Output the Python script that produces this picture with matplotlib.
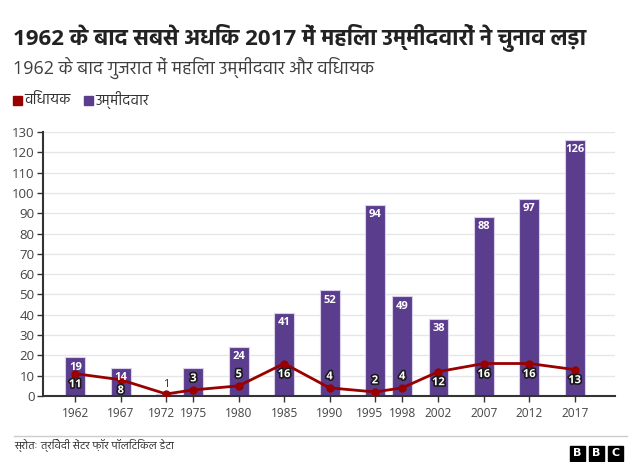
import matplotlib
matplotlib.use("Agg")
import matplotlib.pyplot as plt
import matplotlib.patheffects as pe
import matplotlib.transforms as mtrans
from matplotlib import font_manager
from matplotlib.patches import Rectangle

# ---------------- data ----------------
years = [1962, 1967, 1972, 1975, 1980, 1985, 1990, 1995, 1998, 2002, 2007, 2012, 2017]
candidates = [19, 14, 1, 14, 24, 41, 52, 94, 49, 38, 88, 97, 126]
mlas = [11, 8, 1, 3, 5, 16, 4, 2, 4, 12, 16, 16, 13]
yticks = list(range(0, 131, 10))

title = "1962 के बाद सबसे अधिक 2017 में महिला उम्मीदवारों ने चुनाव लड़ा"
subtitle = "1962 के बाद गुजरात में महिला उम्मीदवार और विधायक"
legend_mla = "विधायक"
legend_cand = "उम्मीदवार"
source = "स्रोतः त्रिवेदी सेंटर फ़ॉर पॉलिटिकल डेटा"

# labels hidden / nudged in the reference due to overlap
hidden_bar_labels = [1975]
hidden_line_labels = [1972]
nudged_tick_labels = [1972, 1995]

# ---------------- fonts ----------------
entries = font_manager.fontManager.ttflist
names = {f.name for f in entries}

def has_bold(name):
    return any(f.name == name and (f.weight == 700 or f.weight == "bold") for f in entries)

def pick(cands, need_bold=True):
    for c in cands:
        if c in names and (not need_bold or has_bold(c)):
            return c
    for c in cands:
        if c in names:
            return c
    return "DejaVu Sans"

dev = pick(["Noto Sans Devanagari", "Hind", "Mukta", "Ek Mukta", "FreeSans"])
latin = pick(["Noto Sans", "Open Sans", "Roboto", "Lato", "Liberation Sans"])
FAM = [latin, dev, "DejaVu Sans"]
plt.rcParams["font.family"] = FAM

BAR = "#5b3d8e"
LINE = "#990000"
TXT = "#444444"

W, H = 640, 462
fig = plt.figure(figsize=(6.4, 4.62), dpi=100)

def fx(px):
    return px / W

def fy(py):
    return 1 - py / H

fig.text(fx(13), fy(38), title, fontsize=16.1, fontweight="bold", color="#222222",
         va="center", ha="left")
fig.text(fx(13), fy(68), subtitle, fontsize=13, color="#404040", va="center", ha="left")

# legend
fig.patches.append(Rectangle((fx(13), fy(105)), fx(9), 9 / H, transform=fig.transFigure,
                             color=LINE, figure=fig))
fig.text(fx(24), fy(100), legend_mla, fontsize=10.5, color="#333333", va="center", ha="left")
fig.patches.append(Rectangle((fx(84), fy(105)), fx(9), 9 / H, transform=fig.transFigure,
                             color=BAR, figure=fig))
fig.text(fx(95), fy(100), legend_cand, fontsize=10.5, color="#333333", va="center", ha="left")

# axes
ax = fig.add_axes([fx(43), fy(396), fx(615) - fx(43), (396 - 132) / H])
ax.set_xlim(1958.44, 2021.44)
ax.set_ylim(0, 130)
ax.bar(years, candidates, width=2.2, color=BAR, edgecolor="#d9d0ea", linewidth=0.8, zorder=2)
ax.plot(years, mlas, color=LINE, lw=2, marker="o", markersize=5, zorder=3)

for yr, v in zip(years, candidates):
    if yr in hidden_bar_labels:
        continue
    if v < 5:
        ax.annotate(str(v), (yr, v), xytext=(0, 3), textcoords="offset points",
                    ha="center", va="bottom", fontsize=8, color="#333333", zorder=4)
    else:
        ax.annotate(str(v), (yr, v), xytext=(0, -3), textcoords="offset points",
                    ha="center", va="top", fontsize=8, fontweight="bold", color="white", zorder=4)

for yr, v in zip(years, mlas):
    if yr in hidden_line_labels:
        continue
    if v >= 8:
        off, va = (0, -4), "top"
    else:
        off, va = (0, 4), "bottom"
    ax.annotate(str(v), (yr, v), xytext=off, textcoords="offset points",
                ha="center", va=va, fontsize=8, fontweight="bold", color="white", zorder=5,
                path_effects=[pe.withStroke(linewidth=2.4, foreground="#1a1a1a")])

ax.set_yticks(yticks)
ax.set_xticks(years)
ax.set_xticklabels([str(y) for y in years])
ax.grid(axis="y", color="#e6e6e6", lw=1, zorder=0)
ax.set_axisbelow(True)
for s in ["top", "right"]:
    ax.spines[s].set_visible(False)
for s in ["left", "bottom"]:
    ax.spines[s].set_color("#333333")
    ax.spines[s].set_linewidth(1.5)
ax.tick_params(axis="y", length=4, width=1, color="#333333", labelsize=9.5, labelcolor=TXT, pad=2)
ax.tick_params(axis="x", length=4, width=1, color="#333333", labelsize=8.6, labelcolor=TXT, pad=4)

shift = mtrans.ScaledTranslation(-5 / 100, 0, fig.dpi_scale_trans)
for yr, lab in zip(years, ax.get_xticklabels()):
    if yr in nudged_tick_labels:
        lab.set_transform(lab.get_transform() + shift)

# footer
fig.add_artist(plt.Line2D([fx(14), fx(627)], [fy(436), fy(436)], transform=fig.transFigure,
                          color="#cccccc", lw=1))
fig.text(fx(14), fy(446), source, fontsize=8, color="#333333", va="center", ha="left")
for i, ch in enumerate("BBC"):
    x0 = 570 + i * 19
    fig.patches.append(Rectangle((fx(x0), fy(461)), fx(15), 15 / H, transform=fig.transFigure,
                                 color="black", figure=fig))
    fig.text(fx(x0 + 7.5), fy(453.5), ch, fontsize=8, fontweight="bold", color="white",
             ha="center", va="center", family="DejaVu Sans")

fig.savefig("out.png", dpi=100)
